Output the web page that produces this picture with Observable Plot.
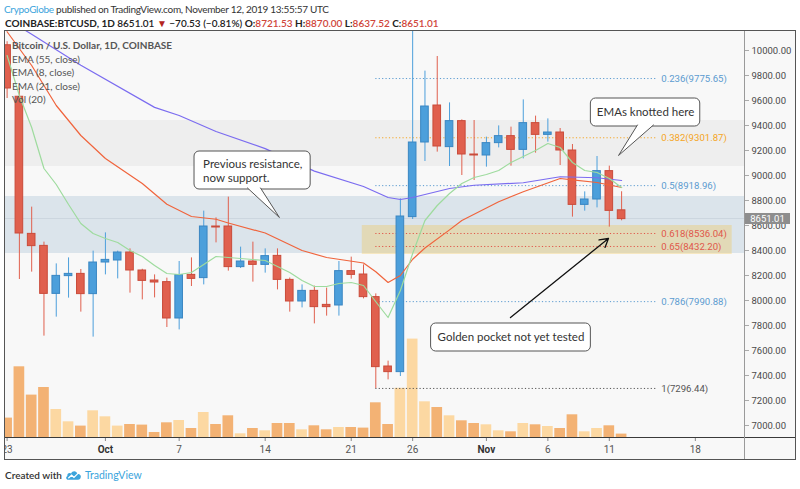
<!DOCTYPE html>
<html>
<head>
<meta charset="utf-8">
<script src="https://cdn.jsdelivr.net/npm/d3@7"></script>
<script src="https://cdn.jsdelivr.net/npm/@observablehq/plot@0.6"></script>
<style>
  body { margin: 0; background: #fff; font-family: Lato, "Open Sans", sans-serif; }
  #root { position: relative; width: 800px; height: 489px; overflow: hidden; background: #fff; }
  .abs { position: absolute; white-space: nowrap; }
  .red { color: #d0453a; font-weight: 600; }
</style>
</head>
<body>
<div id="root">
  <div class="abs" style="left:4px;top:2px;font-size:10px;letter-spacing:-0.3px;line-height:14px;color:#333;">
    <span style="color:#3ba4dc">CrypoGlobe</span> published on TradingView.com, November 12, 2019 13:55:57 UTC
  </div>
  <div class="abs" id="hdr2" style="left:5px;top:16px;font-size:10px;line-height:14px;color:#222;font-weight:700;"></div>
  <div class="abs" id="pane" style="left:4px;top:30px;width:790px;height:428px;border:1px solid #555;background:#f8f8f8;"></div>
  <div id="layers"></div>
  <div class="abs" style="left:0;top:30px;width:4px;height:431px;background:#fff;"></div>
  <div class="abs" style="left:5px;top:437px;width:790px;height:1.3px;background:#3a3a3a;"></div>
  <div class="abs" style="left:744px;top:31px;width:1px;height:428px;background:#9a9a9a;"></div>
  <div class="abs" id="legend" style="left:12px;top:39px;font-size:10px;line-height:13.5px;color:#555;"></div>
  <div class="abs" id="tag" style="left:745px;width:45px;height:11px;background:#8e8e8e;color:#fff;font-size:9.5px;line-height:11px;text-align:center;font-family:Roboto,sans-serif;"></div>
  <div class="abs" style="left:5px;top:468px;font-size:10px;line-height:14px;color:#333;font-weight:600;display:flex;align-items:center;gap:3px;">
    <span>Created with</span>
    <svg width="17" height="12" viewBox="0 0 18 12"><path d="M3.5 11 C1 11 0.5 8 2.5 7 C2 4 5 3 6.5 4.5 C7.5 1 12.5 1 13 5 C16 4.8 17.5 7 16.5 9 C16 10.5 15 11 14 11 Z" fill="#3ba4dc"/><path d="M3.5 9.5 L7 6.2 L9.5 8.5 L13.5 4.5" stroke="#fff" stroke-width="1.3" fill="none"/></svg>
    <span style="color:#3ba4dc;font-weight:400;font-size:10.5px;">TradingView</span>
  </div>
</div>
<script>
// ---------- data ----------
const startMs = Date.UTC(2019, 8, 23);
const DAY = 864e5;
const at = d => new Date(startMs + d * DAY);
const dates = d3.utcDay.range(at(0), at(51));

const open = [10042, 9630, 8533, 8437, 8053, 8195, 8213, 8051, 8304, 8320, 8384, 8240, 8160, 8147, 7856, 8205, 8179, 8592, 8592, 8267, 8312, 8285, 8357, 8165, 7992, 8077, 7965, 7960, 8235, 8208, 8027, 7472, 7427, 8667, 9264, 9560, 9227, 9435, 9168, 9160, 9259, 9315, 9205, 9419, 9325, 9344, 9200, 8765, 8808, 9035, 8721.53];
const high = [10070, 9700, 8747, 8467, 8293, 8341, 8248, 8395, 8541, 8395, 8413, 8250, 8205, 8179, 8312, 8341, 8715, 8661, 8827, 8427, 8467, 8413, 8413, 8180, 8125, 8115, 8099, 8312, 8347, 8285, 8053, 7515, 8813, 10350, 9835, 9952, 9581, 9445, 9440, 9307, 9397, 9387, 9605, 9475, 9453, 9376, 9248, 8869, 9152, 9075, 8870];
const low = [9616, 8168, 8227, 7715, 7867, 8019, 7907, 7707, 8205, 8173, 8059, 8005, 8021, 7784, 7765, 8112, 8125, 8461, 8235, 8256, 8147, 8219, 8085, 7907, 7941, 7813, 7875, 7875, 8171, 8013, 7296, 7365, 7392, 8648, 9112, 9187, 9072, 9000, 8960, 9067, 9221, 9075, 9133, 9179, 9267, 9080, 8667, 8715, 8741, 8587, 8637.52];
const close = [9696, 8536, 8435, 8053, 8197, 8213, 8051, 8304, 8325, 8384, 8240, 8157, 8144, 7856, 8203, 8173, 8592, 8584, 8267, 8312, 8285, 8355, 8165, 7992, 8077, 7947, 7947, 8235, 8205, 8027, 7467, 7427, 8672, 9264, 9552, 9232, 9435, 9168, 9160, 9259, 9315, 9205, 9419, 9325, 9344, 9200, 8765, 8808, 9035, 8717, 8651.01];
const volume = [8570, 30110, 18230, 21420, 12180, 7010, 5210, 11630, 9110, 5210, 5880, 5630, 2520, 6590, 7560, 4200, 10920, 5880, 9530, 1970, 4200, 3230, 6300, 6300, 3650, 5330, 3650, 4620, 4620, 4370, 14990, 5880, 21080, 41750, 15410, 13020, 9530, 7430, 6300, 5750, 3230, 2810, 6300, 5750, 5040, 4200, 9950, 2810, 4200, 5330, 1850];

// EMA readings (day offset from Sep 23, value)
const ema55Days = [0, 2, 6, 12, 14, 17, 21, 25, 29, 31, 32, 33, 36, 38, 42, 45, 48, 50];
const ema55Vals = [10250, 10130, 9882, 9545, 9480, 9352, 9215, 9035, 8912, 8824, 8808, 8824, 8896, 8922, 8942, 8990, 8982, 8960];
const ema21Days = [0, 2, 4, 6, 8, 11, 13, 15, 17, 18, 21, 24, 26, 29, 30, 31, 32, 33, 34, 36, 37, 40, 42, 45, 46, 48, 50];
const ema21Vals = [10150, 9880, 9560, 9320, 9136, 8936, 8770, 8672, 8650, 8620, 8540, 8400, 8344, 8300, 8230, 8144, 8200, 8330, 8420, 8565, 8640, 8790, 8870, 8976, 8965, 8944, 8904];
const ema8Vals = [9960, 9640, 9384, 9056, 8928, 8768, 8616, 8536, 8496, 8464, 8400, 8352, 8280, 8216, 8208, 8224, 8288, 8352, 8344, 8336, 8328, 8320, 8272, 8224, 8160, 8112, 8112, 8136, 8144, 8120, 7990, 7864, 8080, 8376, 8640, 8760, 8856, 8936, 8984, 9008, 9040, 9104, 9152, 9200, 9256, 9224, 9104, 9040, 9024, 8976, 8904];

// Fibonacci retracement
const fibRatios = ["0.236", "0.382", "0.5", "0.618", "0.65", "0.786", "1"];
const fibPrices = [9775.65, 9301.87, 8918.96, 8536.04, 8432.20, 7990.88, 7296.44];
const fibFromDay = 30, fibToDay = 52.9;

// zones (price ranges)
const grayZone = [9072, 9440];
const blueZone = [8376, 8832];
const blueZoneMid = 8656;
const pocketZone = {fromDay: 28.9, toDay: 59, lo: 8368, hi: 8600};

// axes
const yTicks = d3.range(7000, 10001, 200);
const xTickDays = [0, 8, 14, 21, 28, 33, 39, 44, 49, 56];
const xTickLabels = ["23", "Oct", "7", "14", "21", "26", "Nov", "6", "11", "18"];
const monthLabels = ["Oct", "Nov"];

// texts
const legendLines = ["Bitcoin / U.S. Dollar, 1D, COINBASE", "EMA (55, close)", "EMA (8, close)", "EMA (21, close)", "Vol (20)"];
const header = {symbol: "COINBASE:BTCUSD, 1D", last: "8651.01", change: "\u221270.53 (\u22120.81%)", O: "8721.53", H: "8870.00", L: "8637.52", C: "8651.01"};

// annotations (in day / price coordinates)
const callouts = [
  {text: "Previous resistance,\nnow support.", d1: 15.25, d2: 24.7, top: 9192, bottom: 8888, tx: 15.95, align: "start",
   tail: [[19.56, 8900], [22.16, 8664], [20.62, 8900]]},
  {text: "EMAs knotted here", d1: 47.5, d2: 56.4, top: 9616, bottom: 9392, tx: 51.95, align: "middle",
   tail: [[51.29, 9404], [49.75, 9160], [52.59, 9404]]},
  {text: "Golden pocket not yet tested", d1: 34.5, d2: 47.5, top: 7816, bottom: 7592, tx: 41.0, align: "middle", tail: null}
];
const pocketArrow = {fromDay: 40.96, fromPrice: 7864, toDay: 48.93, toPrice: 8496};

// ---------- styles ----------
const UP = "#4c9fdb", UP_EDGE = "#3a86c2", DOWN = "#e0604e", DOWN_EDGE = "#c94b3a";
const VOL_UP = "#fcd8a2", VOL_DOWN = "#f3b274";
const fibColors = ["#5b9bd0", "#f5a524", "#5b9bd0", "#e0574a", "#e0574a", "#5b9bd0", "#555555"];

// ---------- build ----------
const rows = dates.map((date, i) => ({date, open: open[i], high: high[i], low: low[i], close: close[i], volume: volume[i], up: close[i] >= open[i]}));
const shift = (date, d) => new Date(+date + d * DAY);
const ema55 = ema55Days.map((d, i) => ({date: at(d), value: ema55Vals[i]}));
const ema21 = ema21Days.map((d, i) => ({date: at(d), value: ema21Vals[i]}));
const ema8 = ema8Vals.map((v, i) => ({date: at(i), value: v}));
const fibs = fibRatios.map((r, i) => ({label: `${r}(${fibPrices[i].toFixed(2)})`, value: fibPrices[i], color: fibColors[i]}));

const xDomain = [at(-0.13), at(60)];
const yDomain = [6896, 10152];
const W = 800, H = 430;
const common = {width: W, height: H, marginLeft: 5, marginRight: 56, marginTop: 1, marginBottom: 22};

const volPlot = Plot.plot({
  ...common,
  x: {type: "utc", domain: xDomain, axis: null},
  y: {domain: [0, 170940], axis: null},
  color: {type: "identity"},
  style: {background: "transparent"},
  marks: [
    Plot.rect(rows, {x1: d => shift(d.date, -0.435), x2: d => shift(d.date, 0.435), y1: 0, y2: "volume",
      fill: d => d.up ? VOL_UP : VOL_DOWN, clip: true})
  ]
});

const tailData = callouts.filter(c => c.tail).map(c => c.tail.map(([d, v]) => ({date: at(d), value: v, id: c.text})));

const pricePlot = Plot.plot({
  ...common,
  x: {type: "utc", domain: xDomain},
  y: {domain: yDomain},
  color: {type: "identity"},
  style: {background: "transparent", color: "#4a4a4a", fontFamily: "Lato, sans-serif", fontSize: "10px", overflow: "visible"},
  marks: [
    Plot.rect([{lo: grayZone[0], hi: grayZone[1], fill: "#eeeeee"}, {lo: blueZone[0], hi: blueZone[1], fill: "#dbe4eb"}],
      {y1: "lo", y2: "hi", fill: "fill"}),
    Plot.ruleY([blueZoneMid], {stroke: "#ccd6df", strokeWidth: 1}),
    Plot.rect([pocketZone], {x1: d => at(d.fromDay), x2: d => at(d.toDay), y1: "lo", y2: "hi", fill: "#f3c54a", fillOpacity: 0.32}),
    Plot.ruleY(fibs, {y: "value", x1: at(fibFromDay), x2: at(fibToDay), stroke: "color", strokeWidth: 1, strokeDasharray: "1.2,2.2"}),
    Plot.text(fibs, {x: at(fibToDay), y: "value", text: "label", fill: "color", textAnchor: "start", dx: 4, fontSize: 9.6, fontFamily: "Roboto, sans-serif"}),
    Plot.ruleX(rows, {x: "date", y1: "low", y2: "high", stroke: d => d.up ? UP : DOWN, strokeWidth: 1, clip: true}),
    Plot.rect(rows, {x1: d => shift(d.date, -0.31), x2: d => shift(d.date, 0.31), y1: "open", y2: "close",
      fill: d => d.up ? UP : DOWN, stroke: d => d.up ? UP_EDGE : DOWN_EDGE, strokeWidth: 1, clip: true}),
    Plot.line(ema55, {x: "date", y: "value", stroke: "#7b6cf0", strokeWidth: 1.2, clip: true}),
    Plot.line(ema21, {x: "date", y: "value", stroke: "#f0643c", strokeWidth: 1.2, clip: true}),
    Plot.line(ema8, {x: "date", y: "value", stroke: "#9edb9e", strokeWidth: 1.2, clip: true}),
    Plot.rect(callouts, {x1: d => at(d.d1), x2: d => at(d.d2), y1: "bottom", y2: "top", fill: "#fff", stroke: "#555", strokeWidth: 1, rx: 5}),
    ...tailData.map(t => Plot.line(t, {x: "date", y: "value", stroke: "#555", strokeWidth: 1, fill: "#fff", curve: "linear"})),
    Plot.text(callouts.filter(c => c.align === "start"), {x: d => at(d.tx), y: d => (d.top + d.bottom) / 2, text: "text", textAnchor: "start", lineAnchor: "middle", lineHeight: 1.22, fontSize: 11.5, fill: "#333", fontFamily: "Lato, sans-serif"}),
    Plot.text(callouts.filter(c => c.align === "middle"), {x: d => at(d.tx), y: d => (d.top + d.bottom) / 2, text: "text", textAnchor: "middle", lineAnchor: "middle", fontSize: 11.5, fill: "#333", fontFamily: "Lato, sans-serif"}),
    Plot.arrow([pocketArrow], {x1: d => at(d.fromDay), y1: "fromPrice", x2: d => at(d.toDay), y2: "toPrice", stroke: "#111", strokeWidth: 1.3, headLength: 11, bend: 0}),
    Plot.axisY(yTicks, {anchor: "right", tickFormat: d => d.toFixed(2), tickSize: 4, tickPadding: 3, fontSize: 9.5, fontFamily: "Roboto, sans-serif", stroke: "#aaa", fill: "#4a4a4a"}),
    Plot.axisX(xTickDays.filter((d, i) => !monthLabels.includes(xTickLabels[i])).map(at),
      {tickFormat: d => xTickLabels[xTickDays.indexOf(Math.round((+d - startMs) / DAY))], tickSize: 3, tickPadding: 4, fontSize: 10, stroke: "#888", fill: "#555", fontFamily: "Roboto, sans-serif"}),
    Plot.axisX(xTickDays.filter((d, i) => monthLabels.includes(xTickLabels[i])).map(at),
      {tickFormat: d => xTickLabels[xTickDays.indexOf(Math.round((+d - startMs) / DAY))], tickSize: 3, tickPadding: 4, fontSize: 10, fontWeight: "bold", stroke: "#888", fill: "#333", fontFamily: "Roboto, sans-serif"})
  ]
});

const layers = document.getElementById("layers");
for (const p of [volPlot, pricePlot]) {
  p.style.position = "absolute";
  p.style.left = "0px";
  p.style.top = "30px";
  layers.appendChild(p);
}

// header
document.getElementById("hdr2").innerHTML =
  `${header.symbol} <span style="font-weight:600">${header.last} <span style="color:#b3261e">\u25BC</span> ${header.change}</span> ` +
  `O:<span class="red">${header.O}</span> H:<span class="red">${header.H}</span> L:<span class="red">${header.L}</span> C:<span class="red">${header.C}</span>`;

// legend
document.getElementById("legend").innerHTML = legendLines.map((t, i) => `<div style="${i === 0 ? "font-weight:700" : ""}">${t}</div>`).join("");

// last price tag
const yScale = pricePlot.scale("y");
const tag = document.getElementById("tag");
tag.textContent = close[close.length - 1].toFixed(2);
tag.style.top = (30 + yScale.apply(close[close.length - 1]) - 5.5) + "px";
</script>
</body>
</html>
